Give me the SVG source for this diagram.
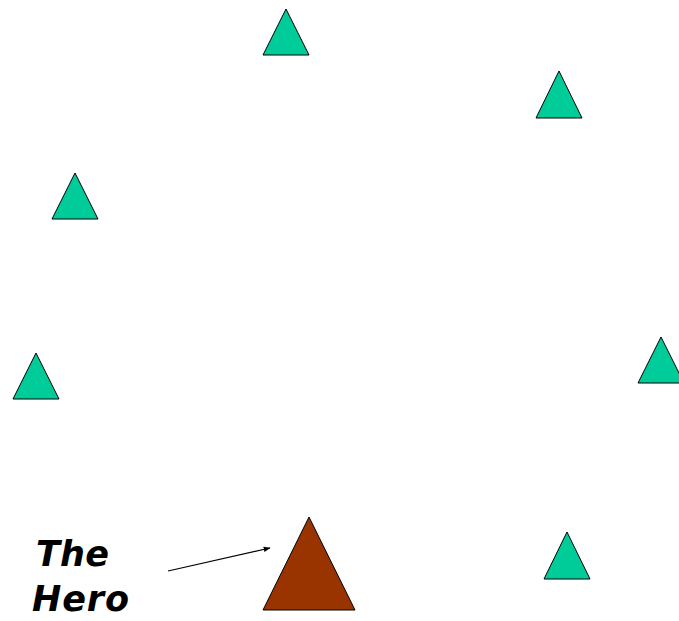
<svg xmlns="http://www.w3.org/2000/svg" width="679" height="621" viewBox="0 0 679 621">
<style>
.tree{fill:#00CC99;stroke:#000;stroke-width:1}
.hero{fill:#993300;stroke:#000;stroke-width:1}
.lbl{font-family:"DejaVu Sans",sans-serif;font-weight:bold;font-style:italic;font-size:35px;fill:#000}
</style>
<defs>
<marker id="ah" viewBox="0 0 10 10" refX="9" refY="5" markerWidth="7" markerHeight="7" orient="auto" markerUnits="userSpaceOnUse">
<path d="M0,1 L10,5 L0,9 z" fill="#000"/>
</marker>
</defs>
<g id="t1"><polygon class="tree" points="286,9 263,55 309,55"/></g>
<g id="t2"><polygon class="tree" points="559,71 536,118 582,118"/></g>
<g id="t3"><polygon class="tree" points="75,173 52,219 98,219"/></g>
<g id="t4"><polygon class="tree" points="36,353 13,399 59,399"/></g>
<g id="t5"><polygon class="tree" points="661,337 638,383 684,383"/></g>
<g id="t6"><polygon class="tree" points="567,532 544,579 590,579"/></g>
<g id="hero"><polygon class="hero" points="309,517 263,610 355,610"/></g>
<g id="label">
<text class="lbl" x="36" y="566" textLength="73">The</text>
<text class="lbl" x="32" y="611" textLength="97">Hero</text>
</g>
<g id="connectors">
<line x1="168" y1="571" x2="270" y2="548" stroke="#000" stroke-width="1.2" marker-end="url(#ah)"/>
</g>
</svg>
